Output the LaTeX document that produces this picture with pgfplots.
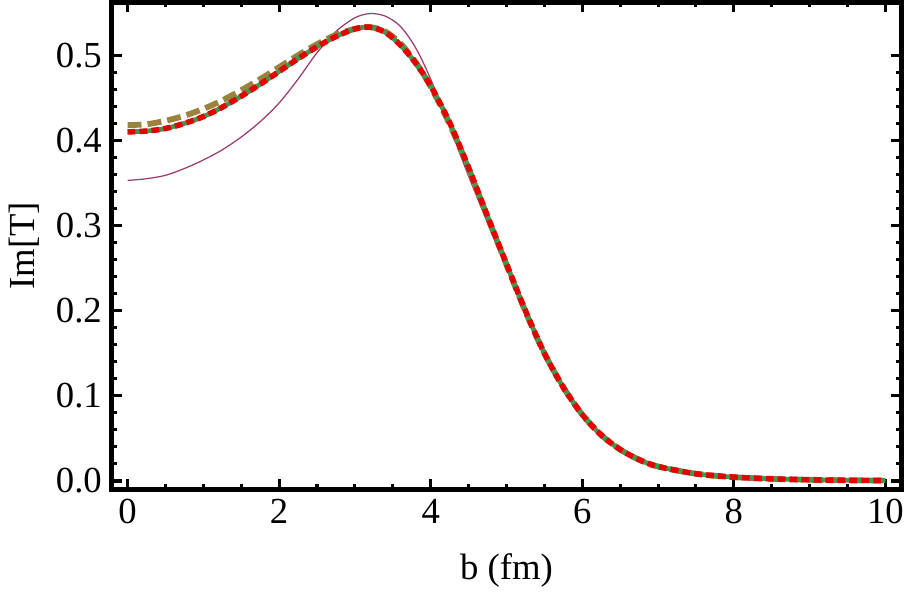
\documentclass[border=0pt]{standalone}
\usepackage{fontspec}
\setmainfont{Liberation Serif}
\usepackage{pgfplots}
\pgfplotsset{compat=1.18}
\usepackage{pgfplotstable}
\definecolor{mpurple}{RGB}{153,61,113}
\definecolor{molive}{RGB}{153,131,61}
\definecolor{mgreen}{RGB}{61,153,82}
\definecolor{mred}{RGB}{230,0,0}

% b, thin purple, olive dashed, green solid (red dotted lies on it)
\pgfplotstableread{
b     pur     oli     grn
0.00  0.353   0.418   0.410
0.25  0.355   0.419   0.411
0.50  0.359   0.423   0.414
0.75  0.367   0.429   0.420
1.00  0.377   0.437   0.428
1.25  0.389   0.447   0.439
1.50  0.404   0.459   0.452
1.75  0.422   0.472   0.466
2.00  0.444   0.486   0.481
2.25  0.472   0.500   0.496
2.50  0.503   0.513   0.510
2.75  0.528   0.524   0.522
3.00  0.544   0.531   0.531
3.20  0.549   0.533   0.533
3.40  0.546   0.528   0.527
3.60  0.534   0.514   0.512
3.80  0.509   0.492   0.491
4.00  0.472   0.463   0.464
4.25  0.416   0.419   0.421
4.50  0.358   0.367   0.368
4.75  0.303   0.310   0.311
5.00  0.249   0.254   0.255
5.25  0.196   0.199   0.200
5.50  0.148   0.150   0.150
5.75  0.109   0.110   0.110
6.00  0.077   0.078   0.078
6.25  0.053   0.054   0.054
6.50  0.036   0.037   0.037
6.75  0.025   0.025   0.025
7.00  0.017   0.017   0.017
7.50  0.0085  0.0085  0.0085
8.00  0.0045  0.0045  0.0045
8.50  0.0025  0.0025  0.0025
9.00  0.0014  0.0014  0.0014
9.50  0.0008  0.0008  0.0008
10.0  0.0005  0.0005  0.0005
}\imt

\begin{document}
\begin{tikzpicture}
\begin{axis}[
    scale only axis,
    width=284pt, height=175pt,
    xmin=-0.21, xmax=10.21,
    ymin=-0.0095, ymax=0.562,
    xtick={0,2,...,10},
    ytick={0,0.1,...,0.5},
    minor x tick num=3,
    minor y tick num=4,
    tick align=inside,
    major tick length=3.6pt,
    minor tick length=1.8pt,
    every tick/.style={black, line width=1.1pt},
    axis line style={line width=1.8pt},
    xticklabel pos=lower, yticklabel pos=left,
    xtick pos=both, ytick pos=both,
    /pgf/number format/assume math mode=true,
    /pgf/number format/fixed,
    /pgf/number format/fixed zerofill,
    xticklabel style={/pgf/number format/precision=0},
    yticklabel style={/pgf/number format/precision=1},
    ticklabel style={font=\fontsize{13.2}{15}\selectfont},
    label style={font=\fontsize{13.2}{15}\selectfont},
    xlabel={b (fm)},
    ylabel={Im[T]},
    xlabel style={yshift=-4pt},
    ylabel style={yshift=-1pt},
    clip=true,
]
\addplot[mpurple, line width=0.45pt, smooth] table[x=b, y=pur] {\imt};
\addplot[molive, line width=2.1pt, dash pattern=on 5pt off 2.2pt, smooth] table[x=b, y=oli] {\imt};
\addplot[mgreen, line width=1.7pt, smooth] table[x=b, y=grn] {\imt};
\addplot[mred, line width=2pt, dash pattern=on 2.8pt off 1.5pt, smooth] table[x=b, y=grn] {\imt};
\end{axis}
\end{tikzpicture}
\end{document}
